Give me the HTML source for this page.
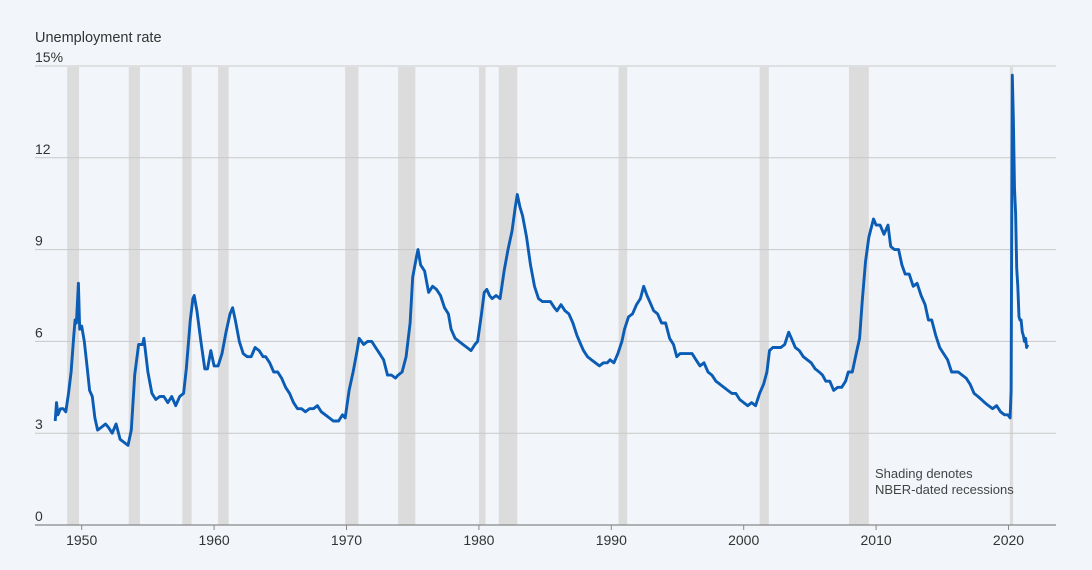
<!DOCTYPE html>
<html><head><meta charset="utf-8">
<style>
html,body{margin:0;padding:0;background:#f2f6fa;}
svg{display:block;font-family:"Liberation Sans",sans-serif;}
</style></head>
<body>
<svg id="chart" width="1092" height="570" viewBox="0 0 1092 570" xmlns="http://www.w3.org/2000/svg">
<rect width="1092" height="570" fill="#f2f6fa"/>
<text x="35" y="42" font-size="14.5" fill="#333">Unemployment rate</text>
<g id="recessions"></g>
<g id="grid"></g>
<g id="xaxis"></g>
<path id="line" fill="none" stroke="#0b5cb5" stroke-width="2.9" stroke-linejoin="round"/>
<text x="875" y="478" font-size="13" fill="#444"><tspan x="875">Shading denotes</tspan><tspan x="875" dy="16">NBER-dated recessions</tspan></text>
</svg>
<script>
const yTicks=[0,3,6,9,12,15];
const xTicks=[1950,1960,1970,1980,1990,2000,2010,2020];
const recStart=[1948.9,1953.55,1957.6,1960.3,1969.9,1973.9,1980.0,1981.5,1990.55,2001.2,2007.95,2020.1];
const recEnd=[1949.8,1954.4,1958.3,1961.1,1970.9,1975.2,1980.5,1982.9,1991.2,2001.9,2009.45,2020.35];
const dates=[1948.0,1948.1,1948.2,1948.4,1948.6,1948.8,1949.0,1949.2,1949.4,1949.5,1949.6,1949.75,1949.85,1950.0,1950.2,1950.4,1950.6,1950.8,1951.0,1951.2,1951.5,1951.8,1952.0,1952.3,1952.6,1952.9,1953.2,1953.5,1953.75,1954.0,1954.3,1954.6,1954.7,1955.0,1955.3,1955.6,1955.9,1956.2,1956.5,1956.8,1957.1,1957.4,1957.7,1957.9,1958.2,1958.4,1958.5,1958.7,1959.0,1959.3,1959.5,1959.75,1960.0,1960.3,1960.6,1960.9,1961.2,1961.4,1961.6,1961.9,1962.2,1962.5,1962.8,1963.1,1963.4,1963.7,1963.9,1964.2,1964.5,1964.8,1965.1,1965.4,1965.7,1966.0,1966.3,1966.6,1966.9,1967.2,1967.5,1967.8,1968.1,1968.4,1968.7,1969.0,1969.4,1969.7,1969.9,1970.2,1970.5,1970.8,1970.95,1971.3,1971.6,1971.9,1972.2,1972.5,1972.8,1973.1,1973.4,1973.7,1973.9,1974.2,1974.5,1974.8,1975.0,1975.3,1975.4,1975.6,1975.9,1976.2,1976.5,1976.8,1977.1,1977.4,1977.7,1977.9,1978.2,1978.5,1978.8,1979.1,1979.4,1979.7,1979.9,1980.2,1980.4,1980.6,1980.8,1981.0,1981.3,1981.6,1981.9,1982.2,1982.5,1982.75,1982.9,1983.1,1983.3,1983.6,1983.9,1984.2,1984.5,1984.8,1985.1,1985.4,1985.7,1985.9,1986.2,1986.5,1986.8,1987.1,1987.4,1987.7,1987.9,1988.2,1988.5,1988.8,1989.1,1989.4,1989.7,1989.9,1990.2,1990.5,1990.8,1991.0,1991.3,1991.6,1991.9,1992.2,1992.45,1992.7,1992.9,1993.2,1993.5,1993.8,1994.1,1994.4,1994.7,1994.95,1995.2,1995.5,1995.8,1996.1,1996.4,1996.7,1997.0,1997.3,1997.6,1997.9,1998.2,1998.5,1998.8,1999.1,1999.4,1999.7,2000.0,2000.3,2000.6,2000.9,2001.2,2001.5,2001.75,2001.95,2002.2,2002.5,2002.8,2003.1,2003.4,2003.6,2003.9,2004.2,2004.5,2004.8,2005.1,2005.4,2005.7,2005.95,2006.2,2006.5,2006.8,2007.1,2007.4,2007.7,2007.9,2008.2,2008.5,2008.75,2008.95,2009.2,2009.45,2009.8,2010.0,2010.3,2010.6,2010.9,2011.1,2011.4,2011.7,2011.95,2012.2,2012.5,2012.8,2013.1,2013.4,2013.7,2013.95,2014.2,2014.5,2014.8,2015.1,2015.4,2015.7,2015.95,2016.2,2016.5,2016.8,2017.1,2017.4,2017.7,2017.95,2018.2,2018.5,2018.8,2019.1,2019.4,2019.7,2019.95,2020.12,2020.2,2020.29,2020.37,2020.45,2020.54,2020.62,2020.7,2020.79,2020.87,2020.95,2021.04,2021.12,2021.2,2021.29,2021.37,2021.45];
const rates=[3.4,4.0,3.6,3.8,3.8,3.7,4.3,5.0,6.2,6.7,6.6,7.9,6.4,6.5,6.0,5.2,4.4,4.2,3.5,3.1,3.2,3.3,3.2,3.0,3.3,2.8,2.7,2.6,3.1,4.9,5.9,5.9,6.1,5.0,4.3,4.1,4.2,4.2,4.0,4.2,3.9,4.2,4.3,5.1,6.7,7.4,7.5,7.0,6.0,5.1,5.1,5.7,5.2,5.2,5.6,6.3,6.9,7.1,6.7,6.0,5.6,5.5,5.5,5.8,5.7,5.5,5.5,5.3,5.0,5.0,4.8,4.5,4.3,4.0,3.8,3.8,3.7,3.8,3.8,3.9,3.7,3.6,3.5,3.4,3.4,3.6,3.5,4.4,5.0,5.7,6.1,5.9,6.0,6.0,5.8,5.6,5.4,4.9,4.9,4.8,4.9,5.0,5.5,6.6,8.1,8.8,9.0,8.5,8.3,7.6,7.8,7.7,7.5,7.1,6.9,6.4,6.1,6.0,5.9,5.8,5.7,5.9,6.0,6.9,7.6,7.7,7.5,7.4,7.5,7.4,8.3,9.0,9.6,10.4,10.8,10.4,10.1,9.4,8.5,7.8,7.4,7.3,7.3,7.3,7.1,7.0,7.2,7.0,6.9,6.6,6.2,5.9,5.7,5.5,5.4,5.3,5.2,5.3,5.3,5.4,5.3,5.6,6.0,6.4,6.8,6.9,7.2,7.4,7.8,7.5,7.3,7.0,6.9,6.6,6.6,6.1,5.9,5.5,5.6,5.6,5.6,5.6,5.4,5.2,5.3,5.0,4.9,4.7,4.6,4.5,4.4,4.3,4.3,4.1,4.0,3.9,4.0,3.9,4.3,4.6,5.0,5.7,5.8,5.8,5.8,5.9,6.3,6.1,5.8,5.7,5.5,5.4,5.3,5.1,5.0,4.9,4.7,4.7,4.4,4.5,4.5,4.7,5.0,5.0,5.6,6.1,7.3,8.6,9.4,10.0,9.8,9.8,9.5,9.8,9.1,9.0,9.0,8.5,8.2,8.2,7.8,7.9,7.5,7.2,6.7,6.7,6.2,5.8,5.6,5.4,5.0,5.0,5.0,4.9,4.8,4.6,4.3,4.2,4.1,4.0,3.9,3.8,3.9,3.7,3.6,3.6,3.5,4.4,14.7,13.2,11.0,10.2,8.4,7.8,6.8,6.7,6.7,6.3,6.2,6.0,6.1,5.8,5.9];

const NS='http://www.w3.org/2000/svg';
const X0=35,X1=1056,Ytop=66,Ybot=525;
function xs(yr){return 81.7+(yr-1950)*13.24;}
function ys(v){return Ybot-(v/15)*(Ybot-Ytop);}

const rec=document.getElementById('recessions');
for(let i=0;i<recStart.length;i++){
  const r=document.createElementNS(NS,'rect');
  r.setAttribute('x',xs(recStart[i]));
  r.setAttribute('width',Math.max(2.5,xs(recEnd[i])-xs(recStart[i])));
  r.setAttribute('y',Ytop+1);
  r.setAttribute('height',Ybot-Ytop-1);
  r.setAttribute('fill','#dcdcdc');
  
  
  rec.appendChild(r);
}
const grid=document.getElementById('grid');
yTicks.forEach(function(t){
  if(t===0)return;
  const l=document.createElementNS(NS,'line');
  l.setAttribute('x1',X0);l.setAttribute('x2',X1);
  l.setAttribute('y1',ys(t));l.setAttribute('y2',ys(t));
  l.setAttribute('stroke','#c8c8c8');l.setAttribute('stroke-width','1');
  
  
  grid.appendChild(l);
});
yTicks.forEach(function(t){
  const tx=document.createElementNS(NS,'text');
  tx.setAttribute('x',X0);tx.setAttribute('y',ys(t)-4);
  tx.setAttribute('font-size','14');tx.setAttribute('fill','#333');
  tx.textContent=t===15?'15%':String(t);
  
  
  grid.appendChild(tx);
});
const xa=document.getElementById('xaxis');
const ax=document.createElementNS(NS,'line');
ax.setAttribute('x1',X0);ax.setAttribute('x2',X1);
ax.setAttribute('y1',Ybot);ax.setAttribute('y2',Ybot);
ax.setAttribute('stroke','#888');ax.setAttribute('stroke-width','1.2');


xa.appendChild(ax);
xTicks.forEach(function(t){
  const tk=document.createElementNS(NS,'line');
  tk.setAttribute('x1',xs(t));tk.setAttribute('x2',xs(t));
  tk.setAttribute('y1',Ybot);tk.setAttribute('y2',Ybot+5);
  tk.setAttribute('stroke','#888');
  
  
  xa.appendChild(tk);
  const tx=document.createElementNS(NS,'text');
  tx.setAttribute('x',xs(t));tx.setAttribute('y',Ybot+20);
  tx.setAttribute('text-anchor','middle');
  tx.setAttribute('font-size','14');tx.setAttribute('fill','#333');
  tx.textContent=String(t);
  
  
  xa.appendChild(tx);
});
let d='';
for(let i=0;i<dates.length;i++){
  d+=(i?'L':'M')+xs(dates[i]).toFixed(1)+','+ys(rates[i]).toFixed(1);
}
document.getElementById('line').setAttribute('d',d);
</script>
</body></html>
